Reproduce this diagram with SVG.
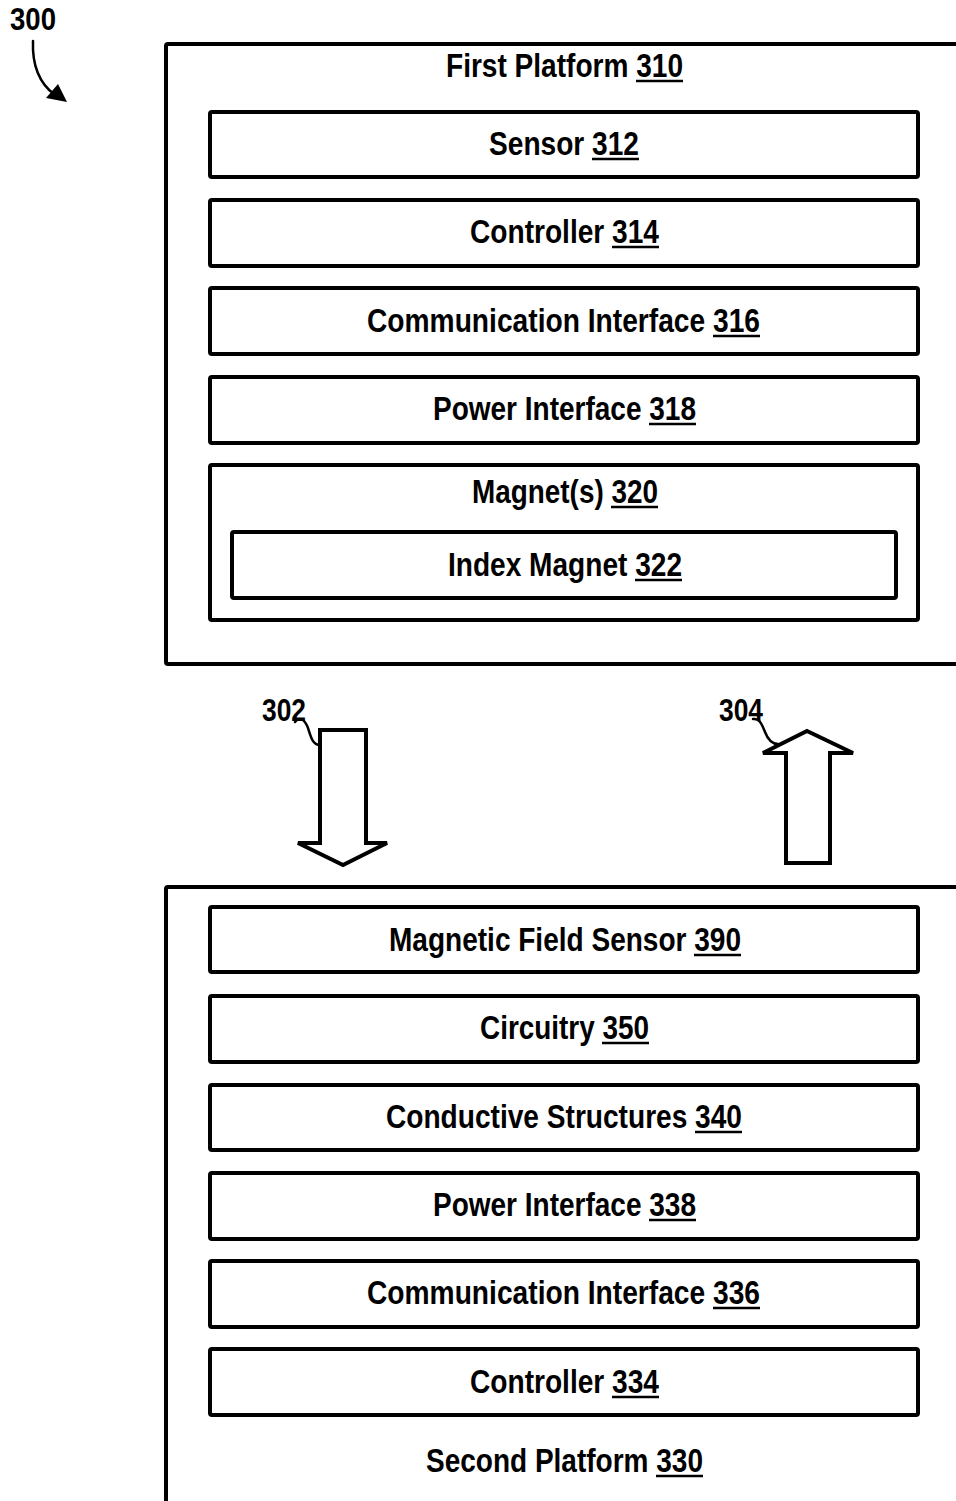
<svg xmlns="http://www.w3.org/2000/svg" width="956" height="1501" viewBox="0 0 956 1501">
<style>
  .box { fill: #fff; stroke: #000; stroke-width: 4; stroke-linejoin: round; }
  .lbl { font-family: "Liberation Sans Narrow", "Liberation Sans", Arial, sans-serif; font-weight: bold; font-size: 33px; fill: #000; text-anchor: middle; }
  .ref { font-family: "Liberation Sans Narrow", "Liberation Sans", Arial, sans-serif; font-weight: bold; font-size: 31px; fill: #000; }
  .ul { stroke: #000; stroke-width: 2.5; }
  .arrow { fill: #fff; stroke: #000; stroke-width: 4; stroke-linejoin: miter; }
  .lead { fill: none; stroke: #000; stroke-width: 2.5; stroke-linecap: round; }
</style>
<rect width="956" height="1501" fill="#fff"/>

<g id="label-300">
  <text class="ref" x="10" y="30" textLength="46" lengthAdjust="spacingAndGlyphs">300</text>
  <path class="lead" d="M33,41 C32,66 40,84 55,95" stroke-width="3.5"/>
  <polygon points="67,102 46,98 58,84" fill="#000"/>
</g>

<g id="first-platform-310">
  <rect class="box" x="166" y="44" width="810" height="620" rx="2"/>
  <text class="lbl" x="564.5" y="77" textLength="237" lengthAdjust="spacingAndGlyphs">First Platform 310</text>
  <line class="ul" x1="636" y1="81" x2="683" y2="81"/>
</g>
<g id="sensor-312">
  <rect class="box" x="210" y="112" width="708" height="65" rx="2"/>
  <text class="lbl" x="564" y="155" textLength="150" lengthAdjust="spacingAndGlyphs">Sensor 312</text>
  <line class="ul" x1="592" y1="159" x2="639" y2="159"/>
</g>
<g id="controller-314">
  <rect class="box" x="210" y="200" width="708" height="66" rx="2"/>
  <text class="lbl" x="564.5" y="243" textLength="189" lengthAdjust="spacingAndGlyphs">Controller 314</text>
  <line class="ul" x1="612" y1="247" x2="659" y2="247"/>
</g>
<g id="comm-interface-316">
  <rect class="box" x="210" y="288" width="708" height="66" rx="2"/>
  <text class="lbl" x="563.5" y="332" textLength="393" lengthAdjust="spacingAndGlyphs">Communication Interface 316</text>
  <line class="ul" x1="713" y1="336" x2="760" y2="336"/>
</g>
<g id="power-interface-318">
  <rect class="box" x="210" y="377" width="708" height="66" rx="2"/>
  <text class="lbl" x="564.5" y="420" textLength="263" lengthAdjust="spacingAndGlyphs">Power Interface 318</text>
  <line class="ul" x1="649" y1="424" x2="696" y2="424"/>
</g>
<g id="magnets-320">
  <rect class="box" x="210" y="465" width="708" height="155" rx="2"/>
  <text class="lbl" x="565" y="503" textLength="186" lengthAdjust="spacingAndGlyphs">Magnet(s) 320</text>
  <line class="ul" x1="611" y1="507" x2="658" y2="507"/>
</g>
<g id="index-magnet-322">
  <rect class="box" x="232" y="532" width="664" height="66" rx="2"/>
  <text class="lbl" x="565" y="576" textLength="234" lengthAdjust="spacingAndGlyphs">Index Magnet 322</text>
  <line class="ul" x1="635" y1="580" x2="682" y2="580"/>
</g>

<g id="connectors">
  <g id="arrow-302">
    <polygon class="arrow" points="320,730 366,730 366,843 387,843 343,865 298,843 320,843"/>
    <path class="lead" d="M295,722 C300,716 305,720 308,728 C311,738 313,745 320,745"/>
    <text class="ref" x="262" y="721" textLength="44" lengthAdjust="spacingAndGlyphs">302</text>
  </g>
  <g id="arrow-304">
    <polygon class="arrow" points="807,731 853,753 830,753 830,863 786,863 786,753 763,753"/>
    <path class="lead" d="M753,719 C760,718 762,725 765,732 C768,740 772,744 778,744"/>
    <text class="ref" x="719" y="721" textLength="44" lengthAdjust="spacingAndGlyphs">304</text>
  </g>
</g>

<g id="second-platform-330">
  <rect class="box" x="166" y="887" width="810" height="700" rx="2"/>
  <text class="lbl" x="564.5" y="1472" textLength="277" lengthAdjust="spacingAndGlyphs">Second Platform 330</text>
  <line class="ul" x1="656" y1="1476" x2="703" y2="1476"/>
</g>
<g id="magnetic-field-sensor-390">
  <rect class="box" x="210" y="907" width="708" height="65" rx="2"/>
  <text class="lbl" x="565" y="951" textLength="352" lengthAdjust="spacingAndGlyphs">Magnetic Field Sensor 390</text>
  <line class="ul" x1="694" y1="955" x2="741" y2="955"/>
</g>
<g id="circuitry-350">
  <rect class="box" x="210" y="996" width="708" height="66" rx="2"/>
  <text class="lbl" x="564.5" y="1039" textLength="169" lengthAdjust="spacingAndGlyphs">Circuitry 350</text>
  <line class="ul" x1="602" y1="1043" x2="649" y2="1043"/>
</g>
<g id="conductive-structures-340">
  <rect class="box" x="210" y="1085" width="708" height="65" rx="2"/>
  <text class="lbl" x="564" y="1128" textLength="356" lengthAdjust="spacingAndGlyphs">Conductive Structures 340</text>
  <line class="ul" x1="695" y1="1132" x2="742" y2="1132"/>
</g>
<g id="power-interface-338">
  <rect class="box" x="210" y="1173" width="708" height="66" rx="2"/>
  <text class="lbl" x="564.5" y="1216" textLength="263" lengthAdjust="spacingAndGlyphs">Power Interface 338</text>
  <line class="ul" x1="649" y1="1220" x2="696" y2="1220"/>
</g>
<g id="comm-interface-336">
  <rect class="box" x="210" y="1261" width="708" height="66" rx="2"/>
  <text class="lbl" x="563.5" y="1304" textLength="393" lengthAdjust="spacingAndGlyphs">Communication Interface 336</text>
  <line class="ul" x1="713" y1="1308" x2="760" y2="1308"/>
</g>
<g id="controller-334">
  <rect class="box" x="210" y="1349" width="708" height="66" rx="2"/>
  <text class="lbl" x="564.5" y="1393" textLength="189" lengthAdjust="spacingAndGlyphs">Controller 334</text>
  <line class="ul" x1="612" y1="1397" x2="659" y2="1397"/>
</g>
</svg>
